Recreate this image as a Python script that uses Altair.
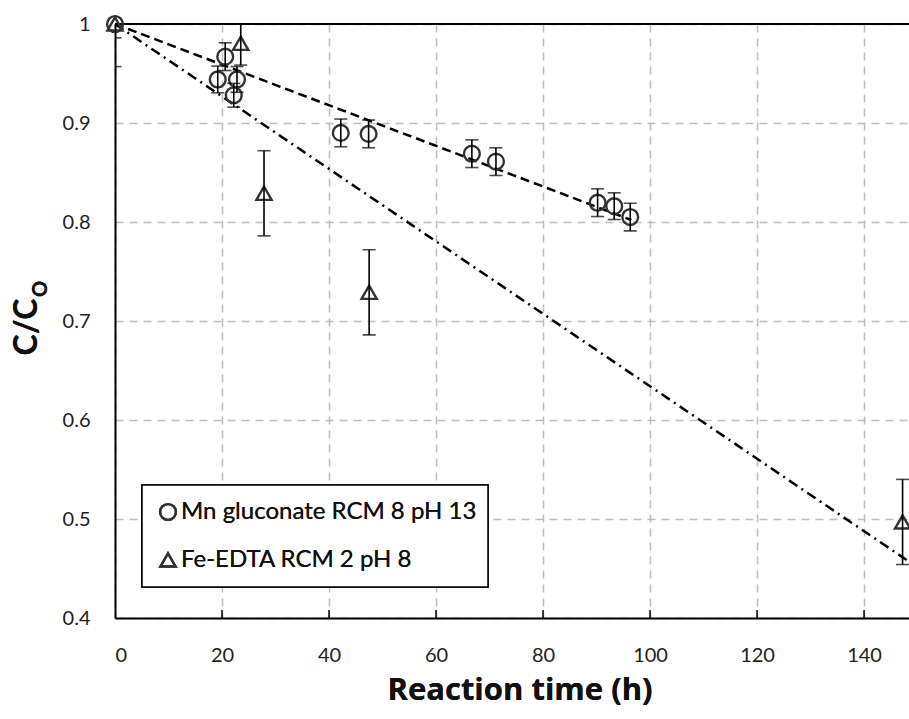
import altair as alt
import pandas as pd

# ---- data ----
mn_x = [0, 19.2, 20.6, 22.2, 22.8, 42.2, 47.4, 66.7, 71.2, 90.2, 93.3, 96.3]
mn_y = [1.0, 0.944, 0.967, 0.928, 0.944, 0.890, 0.889, 0.869, 0.861, 0.8195, 0.816, 0.805]
mn_err = [0.014, 0.0135, 0.014, 0.012, 0.013, 0.014, 0.014, 0.014, 0.014, 0.014, 0.0135, 0.014]

fe_x = [0, 23.5, 27.85, 47.5, 147.2]
fe_y = [1.0, 0.9805, 0.829, 0.729, 0.497]
fe_err = [0.043, 0.022, 0.043, 0.043, 0.043]

# trendline endpoints
mn_trend_x = [0, 96.5]
mn_trend_y = [1.0, 0.802]
fe_trend_x = [0, 148.4]
fe_trend_y = [1.0, 0.457]

x_ticks = [0, 20, 40, 60, 80, 100, 120, 140]
y_ticks = [0.4, 0.5, 0.6, 0.7, 0.8, 0.9, 1.0]
legend_labels = ["Mn gluconate RCM 8 pH 13", "Fe-EDTA RCM 2 pH 8"]
x_title = "Reaction time (h)"

X_DOMAIN = [0, 148.4]
Y_DOMAIN = [0.4, 1.0]
W, H = 794, 594
FONT = "Lato"

mn = pd.DataFrame({"x": mn_x, "y": mn_y,
                   "lo": [v - e for v, e in zip(mn_y, mn_err)],
                   "hi": [v + e for v, e in zip(mn_y, mn_err)]})
fe = pd.DataFrame({"x": fe_x, "y": fe_y,
                   "lo": [v - e for v, e in zip(fe_y, fe_err)],
                   "hi": [v + e for v, e in zip(fe_y, fe_err)]})
mn_tr = pd.DataFrame({"x": mn_trend_x, "y": mn_trend_y})
fe_tr = pd.DataFrame({"x": fe_trend_x, "y": fe_trend_y})
xt = pd.DataFrame({"x": x_ticks[1:]})

xs = alt.Scale(domain=X_DOMAIN, nice=False, zero=False)
ys = alt.Scale(domain=Y_DOMAIN, nice=False, zero=False)

axis_x = alt.Axis(values=x_ticks, grid=True, gridDash=[8, 6], gridColor="#bdbdbd", gridWidth=1.5,
                  ticks=False, domainColor="black", domainWidth=2,
                  labelFont=FONT, labelFontSize=20, labelColor="#222", labelPadding=27,
                  title=None)
axis_y = alt.Axis(values=y_ticks, format="~g", grid=True, gridDash=[8, 6], gridColor="#bdbdbd",
                  gridWidth=1.5, ticks=False, domainColor="black", domainWidth=2,
                  labelFont=FONT, labelFontSize=20, labelColor="#222", labelPadding=25,
                  title=None)


def X(f):
    return alt.X(f"{f}:Q", scale=xs, axis=axis_x)


def Y(f):
    return alt.Y(f"{f}:Q", scale=ys, axis=axis_y)


C_SIZE, T_SIZE = 250, 230
mn_pts = alt.Chart(mn).mark_point(shape="circle", filled=False, size=C_SIZE, stroke="#333",
                                  strokeWidth=2.4, opacity=1).encode(x=X("x"), y=Y("y"))
fe_pts = alt.Chart(fe).mark_point(shape="triangle-up", filled=False, size=T_SIZE, stroke="#333",
                                  strokeWidth=2.4, opacity=1).encode(x=X("x"), y=Y("y"))

mn_line = alt.Chart(mn_tr).mark_line(color="black", strokeWidth=2.5, strokeDash=[9, 5]).encode(
    x=X("x"), y=Y("y"))
fe_line = alt.Chart(fe_tr).mark_line(color="black", strokeWidth=2.5, strokeDash=[10, 5, 2, 5],
                                     clip=True).encode(x=X("x"), y=Y("y"))


def errbars(df):
    rule = alt.Chart(df).mark_rule(color="black", strokeWidth=1.6, clip=True).encode(
        x=X("x"), y=Y("lo"), y2="hi")
    lo = alt.Chart(df).mark_tick(orient="horizontal", size=13, thickness=1.6, color="black",
                                 clip=True).encode(x=X("x"), y=Y("lo"))
    hi = alt.Chart(df).mark_tick(orient="horizontal", size=13, thickness=1.6, color="black",
                                 clip=True).encode(x=X("x"), y=Y("hi"))
    return rule + lo + hi


top_line = alt.Chart(xt).mark_rule(color="black", strokeWidth=2).encode(
    x=alt.value(0), x2=alt.value(W), y=alt.value(0))
x_tick_marks = alt.Chart(xt).mark_rule(color="black", strokeWidth=1.5).encode(
    x=X("x"), y=alt.value(H - 8), y2=alt.value(H))

leg_df = pd.DataFrame({"label": legend_labels})
leg_box = alt.Chart(leg_df).mark_rect(fill="white", stroke="black", strokeWidth=1.5).encode(
    x=alt.value(27), x2=alt.value(373), y=alt.value(461), y2=alt.value(563))
leg_c = alt.Chart(leg_df).mark_point(shape="circle", filled=False, size=C_SIZE, stroke="#333",
                                     strokeWidth=2.4, opacity=1).encode(
    x=alt.value(53), y=alt.value(488))
leg_t = alt.Chart(leg_df).mark_point(shape="triangle-up", filled=False, size=T_SIZE, stroke="#333",
                                     strokeWidth=2.4, opacity=1).encode(
    x=alt.value(53), y=alt.value(536))
leg_txt1 = alt.Chart(leg_df).mark_text(align="left", baseline="middle", font=FONT, fontSize=24,
                                       color="#111").encode(
    x=alt.value(66), y=alt.value(488), text=alt.value(legend_labels[0]))
leg_txt2 = alt.Chart(leg_df).mark_text(align="left", baseline="middle", font=FONT, fontSize=24,
                                       color="#111").encode(
    x=alt.value(66), y=alt.value(536), text=alt.value(legend_labels[1]))

ytitle = alt.Chart(leg_df).mark_text(angle=270, font=FONT, fontSize=32, fontWeight="bold",
                                     align="center", baseline="alphabetic", color="#111").encode(
    x=alt.value(-78), y=alt.value(303), text=alt.value("C/C"))
ytitle_sub = alt.Chart(leg_df).mark_text(angle=270, font=FONT, fontSize=20, fontWeight="bold",
                                         align="center", baseline="alphabetic", color="#111").encode(
    x=alt.value(-68), y=alt.value(265), text=alt.value("O"))
xtitle = alt.Chart(leg_df).mark_text(font="Open Sans", fontSize=31, fontWeight="bold",
                                     align="center", baseline="alphabetic", color="#111").encode(
    x=alt.value(405), y=alt.value(676), text=alt.value(x_title))

chart = alt.layer(
    mn_line, fe_line, top_line, x_tick_marks,
    mn_pts, fe_pts, errbars(mn), errbars(fe),
    leg_box, leg_c, leg_t, leg_txt1, leg_txt2, ytitle, ytitle_sub, xtitle,
).properties(
    width=W, height=H,
    autosize=alt.AutoSizeParams(type="none"),
    padding={"left": 115, "top": 24, "right": 0, "bottom": 101},
    background="white",
).configure_view(stroke=None)

chart.save("out.html", embed_options={"renderer": "svg", "actions": False})
